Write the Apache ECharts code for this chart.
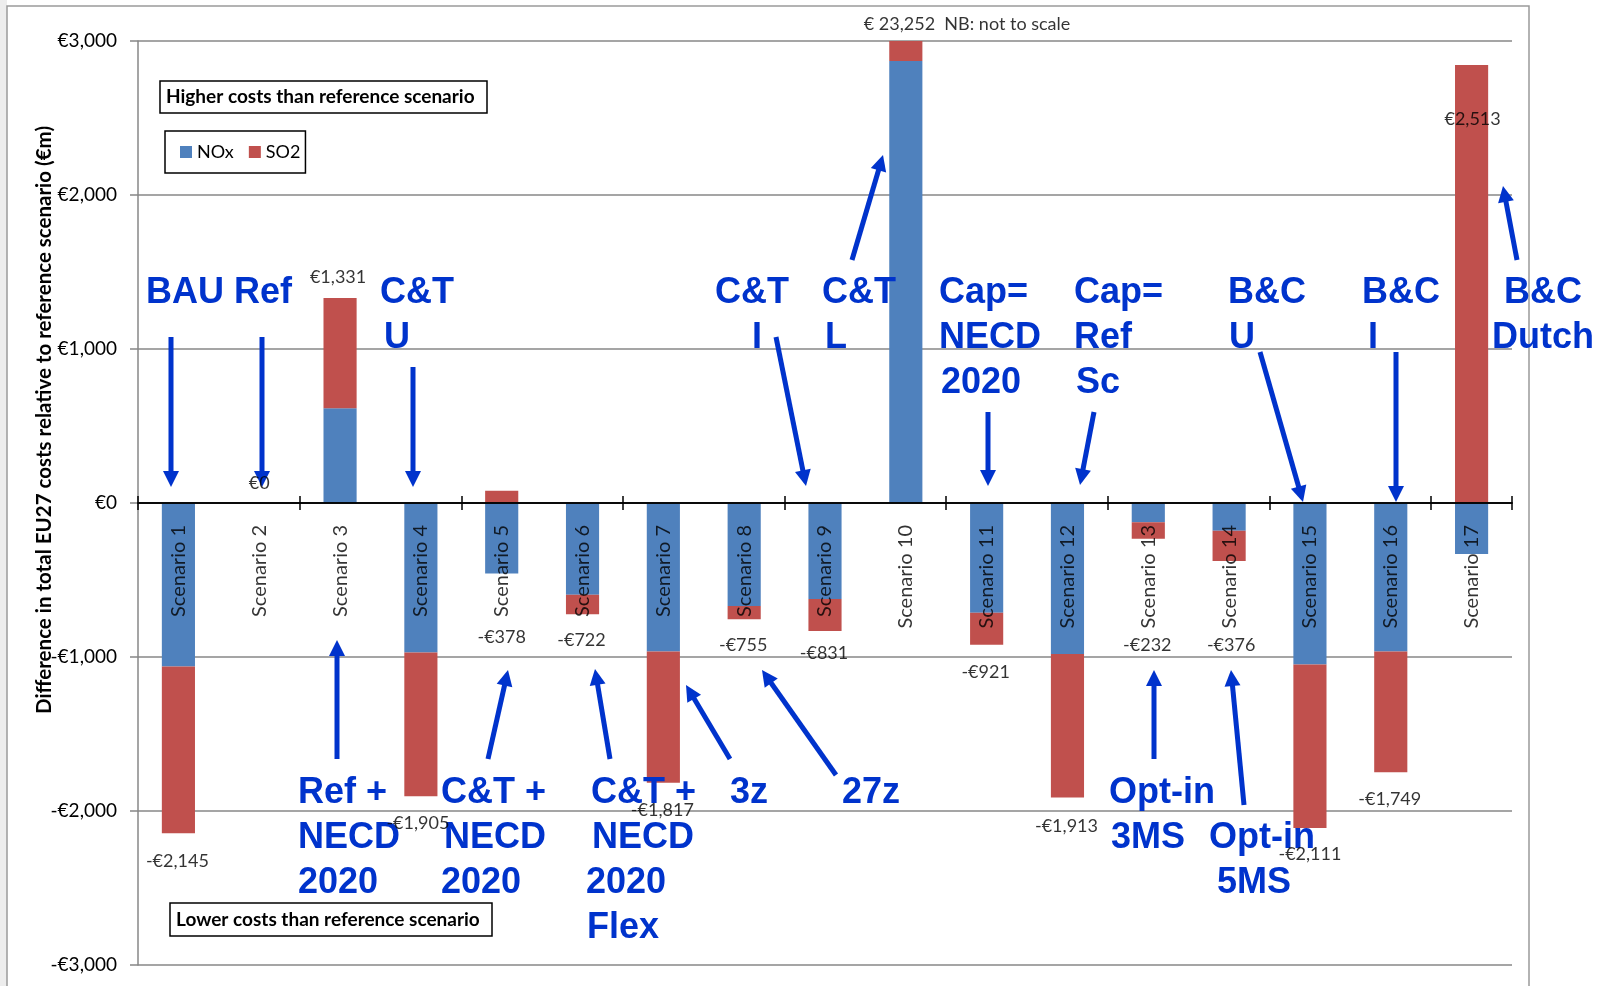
<!DOCTYPE html>
<html>
<head>
<meta charset="utf-8">
<script src="https://cdn.jsdelivr.net/npm/echarts@6/dist/echarts.min.js"></script>
<style>
  html, body { margin: 0; padding: 0; background: #fff; }
  #chart { width: 1597px; height: 986px; }
</style>
</head>
<body>
<div id="chart"></div>
<script>
// ---- data -------------------------------------------------------------
const categories = [
  'Scenario 1', 'Scenario 2', 'Scenario 3', 'Scenario 4', 'Scenario 5', 'Scenario 6',
  'Scenario 7', 'Scenario 8', 'Scenario 9', 'Scenario 10', 'Scenario 11', 'Scenario 12',
  'Scenario 13', 'Scenario 14', 'Scenario 15', 'Scenario 16', 'Scenario 17'
];
// Cost difference by pollutant (EUR m). Scenario 10 is drawn truncated at the
// top of the axis (NB: not to scale); its real net total is 23,252.
const noxValues = [-1061, 0, 615, -970, -458, -596, -964, -669, -624, 2870, -713, -981, -125, -180, -1048, -964, -331];
const so2Values = [-1084, 0, 716, -935, 80, -126, -853, -86, -207, 130, -208, -932, -107, -196, -1063, -785, 2844];
// Net totals written next to each bar
const totalValues = [-2145, 0, 1331, -1905, -378, -722, -1817, -755, -831, 23252, -921, -1913, -232, -376, -2111, -1749, 2513];
const notToScale = [false, false, false, false, false, false, false, false, false, true, false, false, false, false, false, false, false];
const yMin = -3000, yMax = 3000, yStep = 1000;

// ---- styling / placement ---------------------------------------------
const BLUE = '#0033cc';
const NOX_COLOR = '#4f81bd';
const SO2_COLOR = '#c0504d';
const GRID_GRAY = '#878787';
const LABEL_FONT = 'Lato';
const NOTE_FONT = 'bold 36px "Liberation Sans", Arial, sans-serif';

// pixel nudges for the total labels, [dx, dy] from the bar end
const totalLabelShift = [
  [-1, 28], [0, -20], [-2, -21], [-3, 27], [0, 76], [-1, 26], [-1, 27], [-1, 26], [-1, 22],
  [-42, -17], [-1, 27], [-1, 29], [-1, 106], [2, 84], [0, 26], [-1, 27], [1, 3]
];

// callout text lines: [text, left x, baseline y]
const callouts = [
  ['BAU', 146, 305], ['Ref', 234, 305],
  ['C&T', 380, 305], ['U', 384, 350],
  ['C&T', 715, 305], ['I', 752, 350],
  ['C&T', 822, 305], ['L', 825, 350],
  ['Cap=', 939, 305], ['NECD', 939, 350], ['2020', 941, 395],
  ['Cap=', 1074, 305], ['Ref', 1074, 350], ['Sc', 1076, 395],
  ['B&C', 1228, 305], ['U', 1229, 350],
  ['B&C', 1362, 305], ['I', 1368, 350],
  ['B&C', 1504, 305], ['Dutch', 1492, 350],
  ['Ref +', 298, 805], ['NECD', 298, 850], ['2020', 298, 895],
  ['C&T +', 441, 805], ['NECD', 444, 850], ['2020', 441, 895],
  ['C&T +', 591, 805], ['NECD', 592, 850], ['2020', 586, 895], ['Flex', 587, 940],
  ['3z', 730, 805], ['27z', 842, 805],
  ['Opt-in', 1109, 805], ['3MS', 1111, 850],
  ['Opt-in', 1209, 850], ['5MS', 1217, 895]
];
// callout arrows: [fromX, fromY, tipX, tipY]
const calloutArrows = [
  [171, 337, 171, 487], [262, 337, 262, 487], [413, 367, 413, 487],
  [776, 337, 806, 486], [852, 260, 883, 155], [988, 412, 988, 486],
  [1094, 412, 1080, 485], [1260, 352, 1303, 502], [1396, 352, 1396, 502],
  [1517, 260, 1503, 186],
  [337, 759, 337, 640], [488, 759, 508, 670], [610, 759, 595, 669],
  [730, 759, 686, 685], [836, 775, 762, 670], [1154, 759, 1154, 670],
  [1244, 805, 1231, 670]
];

function euro(v) {
  const s = '€' + Math.abs(v).toLocaleString('en-US');
  return v < 0 ? '-' + s : s;
}

function arrowShapes(x1, y1, x2, y2) {
  const dx = x2 - x1, dy = y2 - y1, len = Math.hypot(dx, dy);
  const ux = dx / len, uy = dy / len;
  const hl = 16, hw = 8;
  const bx = x2 - ux * hl, by = y2 - uy * hl;
  return [
    { type: 'line', z: 50, shape: { x1: x1, y1: y1, x2: bx + ux * 2, y2: by + uy * 2 },
      style: { stroke: BLUE, lineWidth: 5 } },
    { type: 'polygon', z: 50,
      shape: { points: [[x2, y2], [bx - uy * hw, by + ux * hw], [bx + uy * hw, by - ux * hw]] },
      style: { fill: BLUE } }
  ];
}

const graphics = [
  // chart frame
  { type: 'rect', z: -10, shape: { x: 0, y: 0, width: 7, height: 986 }, style: { fill: '#ededed' } },
  { type: 'rect', z: -9, shape: { x: 7, y: 6, width: 1522, height: 990 },
    style: { fill: '#fff', stroke: '#9a9a9a', lineWidth: 1.5 } },
  // axis title
  { type: 'text', z: 20, x: 44, y: 420, rotation: Math.PI / 2,
    style: { text: 'Difference in total EU27 costs relative to reference scenario (€m)',
             font: 'bold 20.5px Lato', fill: '#000', textAlign: 'center', textVerticalAlign: 'middle' } },
  // region notes
  { type: 'rect', z: 20, shape: { x: 160, y: 81, width: 327, height: 32 },
    style: { fill: '#fff', stroke: '#000', lineWidth: 1.5 } },
  { type: 'text', z: 21, x: 166, y: 97,
    style: { text: 'Higher costs than reference scenario', font: 'bold 19px Lato', fill: '#000',
             textAlign: 'left', textVerticalAlign: 'middle' } },
  { type: 'rect', z: 20, shape: { x: 170, y: 903, width: 322, height: 33 },
    style: { fill: '#fff', stroke: '#000', lineWidth: 1.5 } },
  { type: 'text', z: 21, x: 176, y: 919.5,
    style: { text: 'Lower costs than reference scenario', font: 'bold 19px Lato', fill: '#000',
             textAlign: 'left', textVerticalAlign: 'middle' } }
];
callouts.forEach(function (c) {
  graphics.push({ type: 'text', z: 50, x: c[1], y: c[2] - 12,
    style: { text: c[0], font: NOTE_FONT, fill: BLUE, textAlign: 'left', textVerticalAlign: 'middle' } });
});
calloutArrows.forEach(function (a) {
  arrowShapes(a[0], a[1], a[2], a[3]).forEach(function (g) { graphics.push(g); });
});

const chart = echarts.init(document.getElementById('chart'), null, { renderer: 'canvas' });

const totalPoints = totalValues.map(function (v, i) {
  const shown = Math.min(v, yMax);
  return {
    value: [i, shown],
    label: {
      offset: totalLabelShift[i],
      align: notToScale[i] ? 'left' : 'center',
      formatter: notToScale[i] ? ('€ ' + v.toLocaleString('en-US') + '  NB: not to scale') : euro(v)
    }
  };
});

// category names hang from the zero line, written upwards over the bars
const categoryLabelPoints = categories.map(function (name, i) {
  return { value: [i, 0], name: name };
});

chart.setOption({
  animation: false,
  backgroundColor: 'transparent',
  grid: { left: 138, right: 85, top: 41, bottom: 21, containLabel: false, outerBoundsMode: 'none' },
  legend: {
    data: ['NOx', 'SO2'],
    left: 165, top: 131,
    padding: [12, 5, 12, 15],
    itemGap: 15, itemWidth: 12, itemHeight: 12,
    icon: 'rect',
    borderColor: '#000', borderWidth: 1.5, backgroundColor: '#fff',
    textStyle: { fontFamily: LABEL_FONT, fontSize: 18, color: '#000' },
    z: 30
  },
  xAxis: [
    {
      // lower half of the boundary ticks
      type: 'category', data: categories, position: 'bottom', z: 10,
      axisLine: { onZero: true, onZeroAxisIndex: 0, lineStyle: { color: '#000', width: 1.5 } },
      axisTick: { show: true, inside: false, length: 7, lineStyle: { color: '#000', width: 1.5 } },
      axisLabel: { show: false },
      splitLine: { show: false }
    },
    {
      // upper half of the boundary ticks
      type: 'category', data: categories, position: 'top', z: 10,
      axisLine: { onZero: true, onZeroAxisIndex: 1, lineStyle: { color: '#000', width: 1.5 } },
      axisTick: { show: true, inside: false, length: 7, lineStyle: { color: '#000', width: 1.5 } },
      axisLabel: { show: false },
      splitLine: { show: false }
    }
  ],
  yAxis: [
    {
      type: 'value', min: yMin, max: yMax, interval: yStep,
      axisLine: { show: true, onZero: false, lineStyle: { color: GRID_GRAY, width: 1.5 } },
      axisTick: { show: true, length: 8, lineStyle: { color: GRID_GRAY, width: 1.5 } },
      axisLabel: { margin: 21, fontFamily: LABEL_FONT, fontSize: 19, color: '#000', formatter: euro },
      splitLine: { show: true, lineStyle: { color: GRID_GRAY, width: 1.5 } }
    },
    {
      type: 'value', min: yMin, max: yMax, interval: yStep, position: 'right',
      axisLine: { show: false, onZero: false }, axisTick: { show: false },
      axisLabel: { show: false }, splitLine: { show: false }
    }
  ],
  series: [
    { name: 'NOx', type: 'bar', stack: 'cost', data: noxValues, barWidth: '41%',
      itemStyle: { color: NOX_COLOR } },
    { name: 'SO2', type: 'bar', stack: 'cost', data: so2Values, barWidth: '41%',
      itemStyle: { color: SO2_COLOR } },
    { name: 'Total', type: 'scatter', data: totalPoints, symbolSize: 0, z: 60, silent: true,
      label: { show: true, position: 'inside', fontFamily: LABEL_FONT, fontSize: 18, color: '#000' } },
    { name: 'Category', type: 'scatter', data: categoryLabelPoints, symbolSize: 0, z: 40, silent: true,
      label: { show: true, position: 'bottom', distance: 22, rotate: 90, align: 'right',
               verticalAlign: 'middle', formatter: '{b}',
               fontFamily: LABEL_FONT, fontSize: 20, color: '#000' } }
  ],
  graphic: graphics
});
</script>
</body>
</html>
